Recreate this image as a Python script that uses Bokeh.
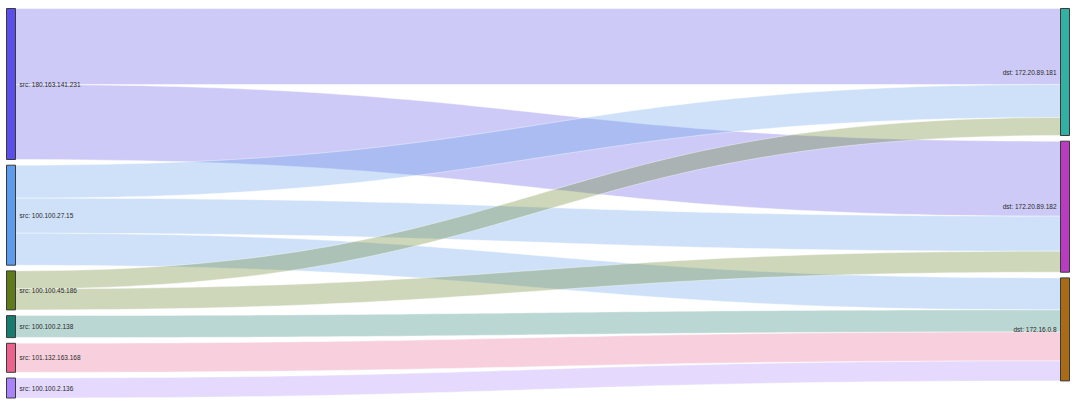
import numpy as np
from bokeh.plotting import figure
from bokeh.models import Range1d
from bokeh.embed import file_html
from bokeh.resources import INLINE
from bokeh.core.properties import value

# ---- data ----
src_nodes = ["180.163.141.231", "100.100.27.15", "100.100.45.186",
             "100.100.2.138", "101.132.163.168", "100.100.2.136"]
dst_nodes = ["172.20.89.181", "172.20.89.182", "172.16.0.8"]

link_src = ["180.163.141.231", "180.163.141.231",
            "100.100.27.15", "100.100.27.15", "100.100.27.15",
            "100.100.45.186", "100.100.45.186",
            "100.100.2.138", "101.132.163.168", "100.100.2.136"]
link_dst = ["172.20.89.181", "172.20.89.182",
            "172.20.89.181", "172.20.89.182", "172.16.0.8",
            "172.20.89.181", "172.20.89.182",
            "172.16.0.8", "172.16.0.8", "172.16.0.8"]
link_val = [76, 75, 33, 35, 32, 18, 21, 22, 29, 20]

src_colors = ["#5a4fe6", "#5e9beb", "#5e7a1c", "#1b7a6e", "#e8648e", "#a983f8"]
dst_colors = ["#35afa2", "#b53dbe", "#a86b1a"]

# ---- layout ----
W, H = 1076, 402
scale = 1.0
gap = 5.7
top = 8
node_w = 9
xl0, xl1 = 6, 6 + node_w
xr0, xr1 = 1060, 1060 + node_w


def stack(nodes, side_vals):
    pos = {}
    y = float(top)
    for n in nodes:
        h = side_vals[n] * scale
        pos[n] = [y, y + h]
        y += h + gap
    return pos


src_tot = {n: 0 for n in src_nodes}
dst_tot = {n: 0 for n in dst_nodes}
for s, d, v in zip(link_src, link_dst, link_val):
    src_tot[s] += v
    dst_tot[d] += v

spos = stack(src_nodes, src_tot)
dpos = stack(dst_nodes, dst_tot)

s_off = {n: spos[n][0] for n in src_nodes}
d_off = {n: dpos[n][0] for n in dst_nodes}
links = list(range(len(link_val)))
link_sy = {}
for n in src_nodes:
    ls = [i for i in links if link_src[i] == n]
    ls.sort(key=lambda i: dst_nodes.index(link_dst[i]))
    for i in ls:
        h = link_val[i] * scale
        link_sy[i] = (s_off[n], s_off[n] + h)
        s_off[n] += h
link_dy = {}
for n in dst_nodes:
    ls = [i for i in links if link_dst[i] == n]
    ls.sort(key=lambda i: src_nodes.index(link_src[i]))
    for i in ls:
        h = link_val[i] * scale
        link_dy[i] = (d_off[n], d_off[n] + h)
        d_off[n] += h

t = np.linspace(0, 1, 80)


def bez(y0, y1):
    xa, xb = xl1, xr0
    xm = (xa + xb) / 2
    bx = (1 - t) ** 3 * xa + 3 * (1 - t) ** 2 * t * xm + 3 * (1 - t) * t ** 2 * xm + t ** 3 * xb
    by = (1 - t) ** 3 * y0 + 3 * (1 - t) ** 2 * t * y0 + 3 * (1 - t) * t ** 2 * y1 + t ** 3 * y1
    return bx, by


xs, ys, cols = [], [], []
for i in links:
    ax, ay = bez(link_sy[i][0], link_dy[i][0])
    bx_, by_ = bez(link_sy[i][1], link_dy[i][1])
    xs.append(list(ax) + list(bx_[::-1]))
    ys.append(list(ay) + list(by_[::-1]))
    cols.append(src_colors[src_nodes.index(link_src[i])])

p = figure(width=W, height=H, output_backend="svg", toolbar_location=None,
           x_range=Range1d(0, W), y_range=Range1d(H, 0), min_border=0)
p.axis.visible = False
p.grid.visible = False
p.outline_line_color = None
p.background_fill_color = "white"

p.patches(xs=xs, ys=ys, fill_color=cols, fill_alpha=0.3,
          line_color="white", line_alpha=0.5, line_width=0.8)

# nodes
p.quad(left=[xl0] * len(src_nodes), right=[xl1] * len(src_nodes),
       top=[spos[n][0] for n in src_nodes], bottom=[spos[n][1] for n in src_nodes],
       fill_color=src_colors, line_color="#3a3a3a", line_width=1)
p.quad(left=[xr0] * len(dst_nodes), right=[xr1] * len(dst_nodes),
       top=[dpos[n][0] for n in dst_nodes], bottom=[dpos[n][1] for n in dst_nodes],
       fill_color=dst_colors, line_color="#3a3a3a", line_width=1)

# labels
p.text(x=[xl1 + 4] * len(src_nodes),
       y=[(spos[n][0] + spos[n][1]) / 2 for n in src_nodes],
       text=["src: " + n for n in src_nodes],
       text_font=value("Liberation Sans"), text_font_size="6.5px",
       text_color="#2a2a2a", text_baseline="middle", text_align="left")
p.text(x=[xr0 - 4] * len(dst_nodes),
       y=[(dpos[n][0] + dpos[n][1]) / 2 for n in dst_nodes],
       text=["dst: " + n for n in dst_nodes],
       text_font=value("Liberation Sans"), text_font_size="6.5px",
       text_color="#2a2a2a", text_baseline="middle", text_align="right")

open("out.html", "w").write(file_html(p, INLINE))
